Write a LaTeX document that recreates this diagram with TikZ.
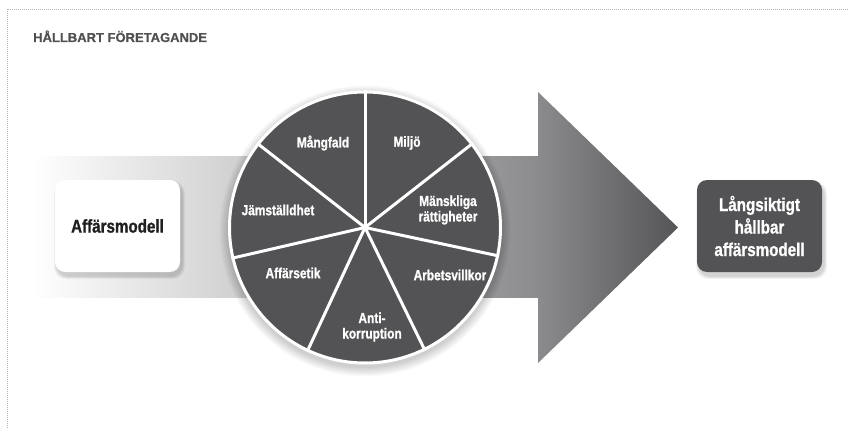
\documentclass[tikz,border=0pt]{standalone}
\usepackage{fontspec}
\setmainfont{Liberation Sans}[BoldFeatures={FakeBold=0.6}]
\newfontfamily\cond{Liberation Sans}[FakeStretch=0.82, BoldFeatures={FakeBold=1}]
\definecolor{piecol}{HTML}{535356}
\definecolor{titlecol}{HTML}{505052}
\definecolor{bandmid}{HTML}{8B8B8E}
\definecolor{bandtip}{HTML}{555558}
\definecolor{bordercol}{HTML}{B4B4B4}
\tikzset{
  pielabel/.style={text=white, font=\cond\bfseries\fontsize{14.5}{15.5}\selectfont, align=center, inner sep=0pt},
  boxshape/.style={rounded corners=10pt, minimum width=125pt, minimum height=92pt, inner sep=0pt, align=center},
  spoke/.style={draw=white, line width=3pt},
}
\begin{document}
\begin{tikzpicture}[x=1pt,y=-1pt]
\useasboundingbox (0,0) rectangle (849,428);
\fill[white] (0,0) rectangle (849,428);
% dotted frame
\draw[bordercol, line width=0.9pt, dash pattern=on 0.9pt off 1.1pt] (7,428) -- (7,9.5) -- (849,9.5);
% title
\node[anchor=base west, inner sep=0pt, text=titlecol, font=\bfseries\fontsize{13}{15}\selectfont] (title) at (33,42) {HÅLLBART FÖRETAGANDE};
% band and arrow
\shade[left color=white, right color=bandmid, shading angle=90] (33,156) rectangle (540,297);
\shade[left color=bandmid, right color=bandtip] (538,92) -- (678,227.5) -- (538,363) -- cycle;
% soft shadow of the circle
\foreach \k in {0,2,...,14}{
  \fill[black, opacity=0.025] (365,231) circle ({137+\k*0.6});
}
% pie
\node[circle, fill=piecol, draw=white, line width=3pt, minimum size=271pt, inner sep=0pt] (pie) at (365,227.5) {};
\foreach \i in {0,...,6}{
  \draw[spoke] (pie.center) -- (pie.{90-\i*360/7});
}
\node[pielabel] (l1) at (323,143) {Mångfald};
\node[pielabel] (l2) at (407,143) {Miljö};
\node[pielabel] (l3) at (448,210) {Mänskliga\\rättigheter};
\node[pielabel] (l4) at (450,275) {Arbetsvillkor};
\node[pielabel] (l5) at (372,327) {Anti-\\korruption};
\node[pielabel] (l6) at (293,273) {Affärsetik};
\node[pielabel] (l7) at (278,210) {Jämställdhet};
% box shadows
\foreach \k in {1,...,5}{
  \fill[black, opacity=0.035, rounded corners=12pt] (117.5-62.5-\k*0.6+2, 226-46-\k*0.6+4) rectangle (117.5+62.5+\k*0.6+2, 226+46+\k*0.6+4);
  \fill[black, opacity=0.035, rounded corners=12pt] (759.5-62.5-\k*0.6+2, 226-46-\k*0.6+4) rectangle (759.5+62.5+\k*0.6+2, 226+46+\k*0.6+4);
}
% boxes
\node[boxshape, fill=white, text=black!88, font=\cond\bfseries\fontsize{18.5}{20}\selectfont] (left) at (117.5,226) {Affärsmodell};
\node[boxshape, fill=piecol, text=white, font=\cond\bfseries\fontsize{18.5}{22.5}\selectfont] (right) at (759.5,226) {Långsiktigt\\hållbar\\affärsmodell};
\end{tikzpicture}
\end{document}
